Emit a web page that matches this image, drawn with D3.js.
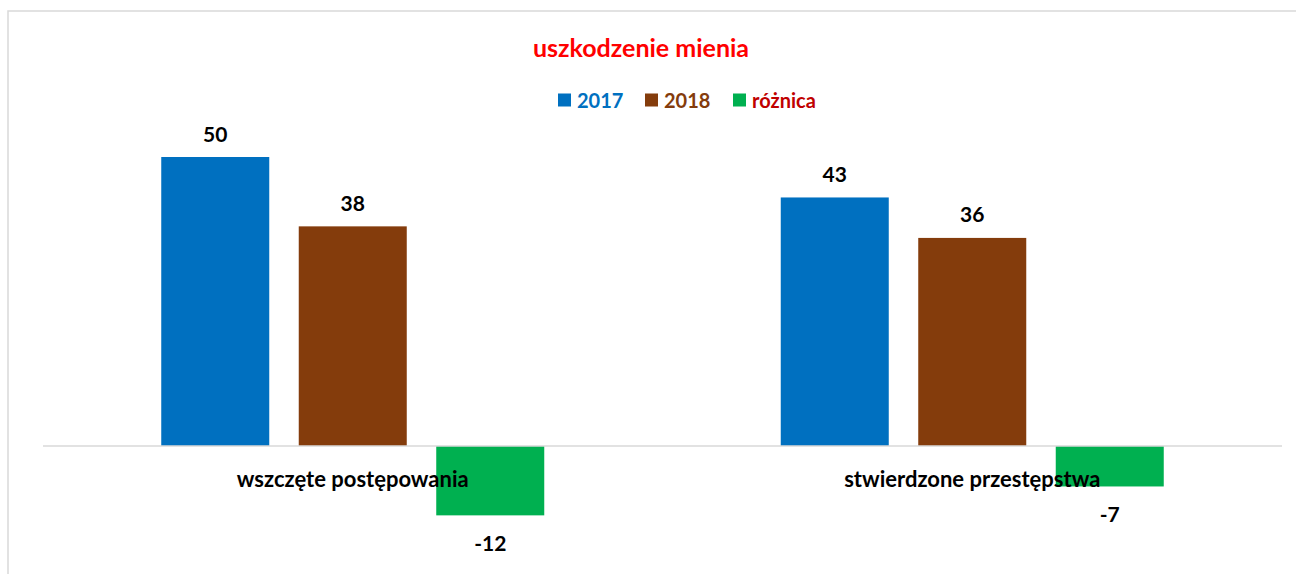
<!DOCTYPE html>
<html>
<head>
<meta charset="utf-8">
<script src="https://cdn.jsdelivr.net/npm/d3@7"></script>
<style>
  body { margin: 0; background: #fff; }
  svg { display: block; font-family: Lato, "Open Sans", sans-serif; font-weight: bold; }
</style>
</head>
<body>
<svg id="chart" width="1296" height="574"></svg>
<script>
// DATA
var categories = ["wszczęte postępowania", "stwierdzone przestępstwa"];
var seriesNames = ["2017", "2018", "różnica"];
var values2017 = [50, 43];
var values2018 = [38, 36];
var valuesDiff = [-12, -7];

var seriesColors = ["#0070c0", "#843c0c", "#00b050"];
var legendTextColors = ["#0070c0", "#843c0c", "#c00000"];

var rows = categories.map(function(c, i) {
    return { category: c, values: [values2017[i], values2018[i], valuesDiff[i]] };
});

var svg = d3.select("#chart");

// chart frame
svg.append("rect")
    .attr("x", 8).attr("y", 11)
    .attr("width", 1300).attr("height", 600)
    .attr("fill", "none")
    .attr("stroke", "#d9d9d9")
    .attr("stroke-width", 1.5);

// scales
var x0 = d3.scaleBand()
    .domain(categories)
    .range([43, 1282])
    .padding(0);

var x1 = d3.scaleBand()
    .domain(seriesNames)
    .range([0, x0.bandwidth()])
    .paddingInner(0.2145)
    .paddingOuter(0.86);

var y = d3.scaleLinear()
    .domain([-20, 60])
    .range([561.6, 99.2]);

// title
svg.append("text")
    .attr("x", 641).attr("y", 47)
    .attr("text-anchor", "middle")
    .attr("dominant-baseline", "central")
    .attr("fill", "#ff0000")
    .style("font-size", "25px")
    .text("uszkodzenie mienia");

// legend
var legendX = [558, 645, 733];
var legend = svg.selectAll(".legend")
    .data(seriesNames)
    .enter().append("g")
    .attr("class", "legend")
    .attr("transform", function(d, i) { return "translate(" + legendX[i] + ",100)"; });

legend.append("rect")
    .attr("x", 0).attr("y", -6.5)
    .attr("width", 13).attr("height", 13)
    .attr("fill", function(d, i) { return seriesColors[i]; });

legend.append("text")
    .attr("x", 19).attr("y", 0)
    .attr("dominant-baseline", "central")
    .attr("fill", function(d, i) { return legendTextColors[i]; })
    .style("font-size", "20px")
    .text(function(d) { return d; });

// bars
var groups = svg.selectAll(".group")
    .data(rows)
    .enter().append("g")
    .attr("class", "group")
    .attr("transform", function(d) { return "translate(" + x0(d.category) + ",0)"; });

var bars = groups.selectAll(".bar")
    .data(function(d) {
        return d.values.map(function(v, i) { return { series: seriesNames[i], value: v, idx: i }; });
    })
    .enter();

bars.append("rect")
    .attr("class", "bar")
    .attr("x", function(d) { return x1(d.series); })
    .attr("y", function(d) { return y(Math.max(0, d.value)); })
    .attr("width", x1.bandwidth())
    .attr("height", function(d) { return Math.abs(y(d.value) - y(0)); })
    .attr("fill", function(d) { return seriesColors[d.idx]; });

// value labels
bars.append("text")
    .attr("x", function(d) { return x1(d.series) + x1.bandwidth() / 2; })
    .attr("y", function(d) { return d.value >= 0 ? y(d.value) - 24 : y(d.value) + 27; })
    .attr("text-anchor", "middle")
    .attr("dominant-baseline", "central")
    .attr("fill", "#000")
    .style("font-size", "21px")
    .text(function(d) { return d.value; });

// zero axis line
svg.append("line")
    .attr("x1", 43).attr("x2", 1282)
    .attr("y1", y(0)).attr("y2", y(0))
    .attr("stroke", "#d9d9d9")
    .attr("stroke-width", 1.5);

// category labels
svg.selectAll(".catLabel")
    .data(categories)
    .enter().append("text")
    .attr("class", "catLabel")
    .attr("x", function(d) { return x0(d) + x0.bandwidth() / 2; })
    .attr("y", 478)
    .attr("text-anchor", "middle")
    .attr("dominant-baseline", "central")
    .attr("fill", "#000")
    .style("font-size", "22px")
    .text(function(d) { return d; });
</script>
</body>
</html>
